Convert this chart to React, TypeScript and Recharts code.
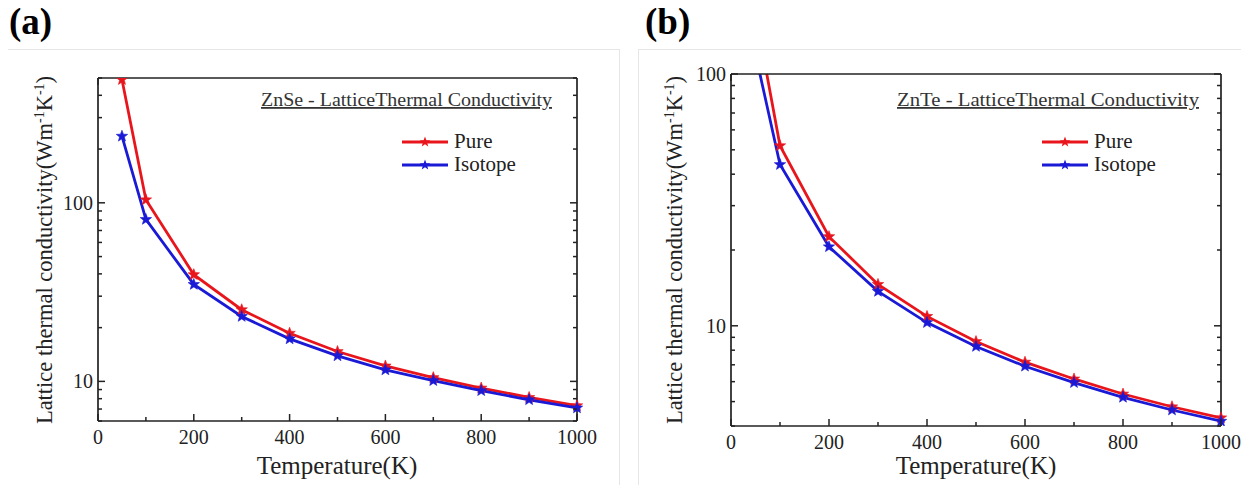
import React from "react";
import { LineChart, Line, XAxis, YAxis, Legend } from "recharts";

// temperature (K)
const temps = [50, 100, 200, 300, 400, 500, 600, 700, 800, 900, 1000];

// ZnSe lattice thermal conductivity (W m^-1 K^-1)
const znsePure = [490, 104, 39.6, 25.2, 18.6, 14.7, 12.2, 10.5, 9.18, 8.13, 7.31];
const znseIsotope = [236, 80.7, 34.9, 23.1, 17.3, 13.9, 11.6, 10.1, 8.87, 7.89, 7.1];

// ZnTe lattice thermal conductivity (W m^-1 K^-1)
const zntePure = [175, 51.9, 22.6, 14.6, 10.9, 8.66, 7.17, 6.15, 5.36, 4.77, 4.31];
const znteIsotope = [120, 43.7, 20.6, 13.7, 10.3, 8.28, 6.91, 5.95, 5.2, 4.63, 4.18];

const seriesNames = ["Pure", "Isotope"];
const xTicks = [0, 100, 200, 300, 400, 500, 600, 700, 800, 900, 1000];
const xMajor = [0, 200, 400, 600, 800, 1000];
const znseYTicks = [6, 7, 8, 9, 10, 20, 30, 40, 50, 60, 70, 80, 90, 100, 200, 300, 400, 500];
const znteYTicks = [4, 5, 6, 7, 8, 9, 10, 20, 30, 40, 50, 60, 70, 80, 90, 100];
const yMajor = [10, 100];

const RED = "#e8161c";
const BLUE = "#1a1ad6";
const FONT = "'Liberation Serif', 'Times New Roman', serif";
const AXIS = { stroke: "#222", strokeWidth: 1.7 };

const toRows = (a: number[], b: number[]) =>
  temps.map((t, i) => ({ t, pure: a[i], isotope: b[i] }));

function starPoints(cx: number, cy: number, r: number) {
  const pts: string[] = [];
  for (let i = 0; i < 10; i++) {
    const rr = i % 2 === 0 ? r : r * 0.42;
    const a = -Math.PI / 2 + (i * Math.PI) / 5;
    pts.push(`${cx + rr * Math.cos(a)},${cy + rr * Math.sin(a)}`);
  }
  return pts.join(" ");
}

const starDot = (color: string) => (p: any) => {
  if (p.cx == null || p.cy == null) return <g key={p.index} />;
  return <polygon key={p.index} points={starPoints(p.cx, p.cy, 6)} fill={color} stroke={color} strokeWidth={0.6} />;
};

// inward ticks, labels only on major values
const bottomTick = (p: any) => {
  const major = xMajor.includes(p.payload.value);
  return (
    <g>
      <line x1={p.x} x2={p.x} y1={p.y} y2={p.y - (major ? 7 : 4)} stroke="#222" strokeWidth={1.5} />
      {major && (
        <text x={p.x} y={p.y + 23} textAnchor="middle" fontFamily={FONT} fontSize={20} fill="#222">
          {p.payload.value}
        </text>
      )}
    </g>
  );
};

const topTick = (p: any) => {
  const major = xMajor.includes(p.payload.value);
  return <line x1={p.x} x2={p.x} y1={p.y} y2={p.y + (major ? 7 : 4)} stroke="#222" strokeWidth={1.5} />;
};

const leftTick = (p: any) => {
  const major = yMajor.includes(p.payload.value);
  return (
    <g>
      <line x1={p.x} x2={p.x + (major ? 7 : 4)} y1={p.y} y2={p.y} stroke="#222" strokeWidth={1.5} />
      {major && (
        <text x={p.x - 5} y={p.y + 7} textAnchor="end" fontFamily={FONT} fontSize={20} fill="#222">
          {p.payload.value}
        </text>
      )}
    </g>
  );
};

const rightTick = (p: any) => {
  const major = yMajor.includes(p.payload.value);
  return <line x1={p.x} x2={p.x - (major ? 7 : 4)} y1={p.y} y2={p.y} stroke="#222" strokeWidth={1.5} />;
};

function legendBox(title: string, titleWidth: number, lineX: number) {
  return (props: any) => {
    const items = [...(props.payload || [])].sort(
      (a: any, b: any) => seriesNames.indexOf(a.value) - seriesNames.indexOf(b.value)
    );
    return (
      <svg width={320} height={95} style={{ display: "block" }}>
        <text x={6} y={23} fontFamily={FONT} fontSize={18} fill="#333" textDecoration="underline"
          textLength={titleWidth} lengthAdjust="spacingAndGlyphs">
          {title}
        </text>
        {items.map((e: any, i: number) => {
          const y = 59 + i * 23;
          return (
            <g key={e.value}>
              <line x1={lineX} x2={lineX + 46} y1={y} y2={y} stroke={e.color} strokeWidth={2.8} />
              <polygon points={starPoints(lineX + 23, y, 5.5)} fill={e.color} />
              <text x={lineX + 52} y={y + 6} fontFamily={FONT} fontSize={21} fill="#222">{e.value}</text>
            </g>
          );
        })}
      </svg>
    );
  };
}

interface PanelProps {
  left: number;
  width: number;
  margin: { top: number; right: number; bottom: number; left: number };
  yDomain: [number, number];
  yTicks: number[];
  pure: number[];
  isotope: number[];
  title: string;
  titleWidth: number;
  lineX: number;
  letter: string;
  yLabelX: number;
  xLabelX: number;
}

function Panel(p: PanelProps) {
  const data = toRows(p.pure, p.isotope);
  return (
    <>
      <div style={{ position: "absolute", left: p.left + 2, top: 49, width: p.width - 2, height: 460, border: "1px solid #e6e6e6", boxSizing: "border-box" }} />
      <div style={{ position: "absolute", left: p.left + 9, top: 0, fontFamily: FONT, fontWeight: "bold", fontSize: 37 }}>{p.letter}</div>
      <div style={{ position: "absolute", left: p.left, top: 50 }}>
        <LineChart width={p.width} height={443} data={data} margin={p.margin}>
          <XAxis dataKey="t" type="number" domain={[0, 1000]} ticks={xTicks} interval={0}
            tickSize={0} tickMargin={0} tickLine={false} axisLine={AXIS} tick={bottomTick} height={30} />
          <XAxis xAxisId="top" orientation="top" type="number" domain={[0, 1000]} ticks={xTicks} interval={0}
            tickSize={0} tickMargin={0} tickLine={false} axisLine={AXIS} tick={topTick} height={1} />
          <YAxis type="number" scale="log" domain={p.yDomain} allowDataOverflow ticks={p.yTicks} interval={0}
            tickSize={0} tickMargin={0} tickLine={false} axisLine={AXIS} tick={leftTick} width={60} />
          <YAxis yAxisId="r" orientation="right" type="number" scale="log" domain={p.yDomain} allowDataOverflow
            ticks={p.yTicks} interval={0} tickSize={0} tickMargin={0} tickLine={false} axisLine={AXIS} tick={rightTick} width={1} />
          <Legend layout="vertical" align="center" verticalAlign="middle"
            wrapperStyle={{ left: 255, top: 33, width: 320 }} content={legendBox(p.title, p.titleWidth, p.lineX)} />
          <Line dataKey="pure" name="Pure" stroke={RED} strokeWidth={2.8} dot={starDot(RED)} isAnimationActive={false} />
          <Line dataKey="isotope" name="Isotope" stroke={BLUE} strokeWidth={2.8} dot={starDot(BLUE)} isAnimationActive={false} />
        </LineChart>
      </div>
      <div style={{ position: "absolute", left: p.yLabelX, top: 250, width: 0, height: 0 }}>
        <div style={{ position: "absolute", transform: "translate(-50%, -50%) rotate(-90deg)", whiteSpace: "nowrap", fontFamily: FONT, fontSize: 22.5, color: "#222" }}>
          Lattice thermal conductivity(Wm<sup style={{ fontSize: 14 }}>-1</sup>K<sup style={{ fontSize: 14 }}>-1</sup>)
        </div>
      </div>
      <div style={{ position: "absolute", left: p.xLabelX, top: 466, width: 0, height: 0 }}>
        <div style={{ position: "absolute", transform: "translate(-50%, -50%)", whiteSpace: "nowrap", fontFamily: FONT, fontSize: 25, color: "#222" }}>
          Temperature(K)
        </div>
      </div>
    </>
  );
}

export default function App() {
  return (
    <div style={{ position: "relative", width: 1249, height: 493, margin: -8, overflow: "hidden", background: "#fff" }}>
      <Panel left={0} width={620} margin={{ top: 27, right: 42, bottom: 42, left: 38 }}
        yDomain={[6, 500]} yTicks={znseYTicks} pure={znsePure} isotope={znseIsotope}
        title="ZnSe - LatticeThermal Conductivity" titleWidth={291} lineX={147} letter="(a)"
        yLabelX={45} xLabelX={337} />
      <Panel left={636} width={613} margin={{ top: 23, right: 27, bottom: 37, left: 35 }}
        yDomain={[4, 100]} yTicks={znteYTicks} pure={zntePure} isotope={znteIsotope}
        title="ZnTe - LatticeThermal Conductivity" titleWidth={302} lineX={151} letter="(b)"
        yLabelX={675} xLabelX={976} />
    </div>
  );
}
